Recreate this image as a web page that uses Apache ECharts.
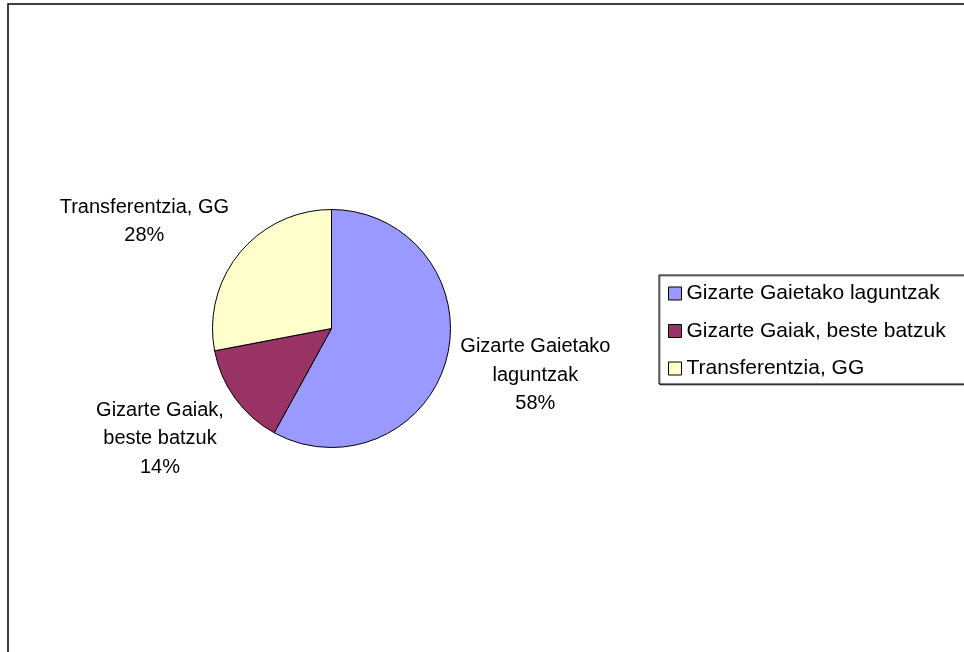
<!DOCTYPE html>
<html>
<head>
<meta charset="utf-8">
<script src="https://cdn.jsdelivr.net/npm/echarts@6/dist/echarts.min.js"></script>
<style>
html,body{margin:0;padding:0;background:#fff;}
#chart{width:964px;height:652px;}
</style>
</head>
<body>
<div id="chart"></div>
<script>
var names = ['Gizarte Gaietako laguntzak', 'Gizarte Gaiak, beste batzuk', 'Transferentzia, GG'];
var labelTexts = ['Gizarte Gaietako\nlaguntzak', 'Gizarte Gaiak,\nbeste batzuk', 'Transferentzia, GG'];
var values = [58, 14, 28];
var colors = ['#9999FF', '#993366', '#FFFFCC'];

var cx = 331.5, cy = 328.5, r = 119;
var font = 'Arial, "Liberation Sans", sans-serif';

// middle angle of every slice, clockwise from the top
var total = values.reduce(function (a, b) { return a + b; }, 0);
var midAngles = [];
var acc = 0;
for (var i = 0; i < values.length; i++) {
    midAngles.push((acc + values[i] / 2) / total * Math.PI * 2);
    acc += values[i];
}

var pieData = [];
for (var i = 0; i < values.length; i++) {
    pieData.push({ name: names[i], value: values[i], itemStyle: { color: colors[i] } });
}

function clamp1(v) { return Math.max(-1, Math.min(1, v)); }

var myChart = echarts.init(document.getElementById('chart'));
var option = {
    animation: false,
    backgroundColor: '#fff',
    graphic: [{
        type: 'rect',
        shape: { x: 8, y: 4, width: 2000, height: 2000 },
        style: { fill: 'none', stroke: '#000', lineWidth: 1.5 },
        silent: true
    }],
    legend: {
        orient: 'vertical',
        left: 659,
        top: 275,
        padding: [8, 40, 5, 9],
        itemGap: 16.5,
        itemWidth: 13,
        itemHeight: 13,
        icon: 'rect',
        itemStyle: { borderColor: '#000', borderWidth: 1 },
        backgroundColor: '#fff',
        borderColor: '#000',
        borderWidth: 1,
        shadowColor: 'rgba(0,0,0,0.5)',
        shadowOffsetX: 1,
        shadowOffsetY: 1,
        textStyle: { fontFamily: font, fontSize: 21, color: '#000', lineHeight: 20 },
        data: names
    },
    series: [{
        type: 'pie',
        center: [cx, cy],
        radius: r,
        startAngle: 90,
        clockwise: true,
        data: pieData,
        itemStyle: { borderColor: '#000', borderWidth: 1 },
        emphasis: { disabled: true },
        label: {
            show: true,
            position: 'outside',
            fontFamily: font,
            fontSize: 20,
            lineHeight: 28.5,
            color: '#000',
            align: 'center',
            formatter: function (p) {
                return labelTexts[p.dataIndex] + '\n' + p.value + '%';
            }
        },
        labelLine: { show: false },
        // put the label box just outside the slice, toward its middle angle
        labelLayout: function (p) {
            var a = midAngles[p.dataIndex];
            var dx = Math.sin(a), dy = -Math.cos(a);
            var w = p.labelRect.width, h = p.labelRect.height;
            return {
                x: cx + dx * 133 + clamp1(dx * 1.4) * w / 2,
                y: cy + dy * 128 + clamp1(dy * 1.4) * h / 2,
                align: 'center',
                verticalAlign: 'middle'
            };
        }
    }]
};
myChart.setOption(option);
</script>
</body>
</html>
